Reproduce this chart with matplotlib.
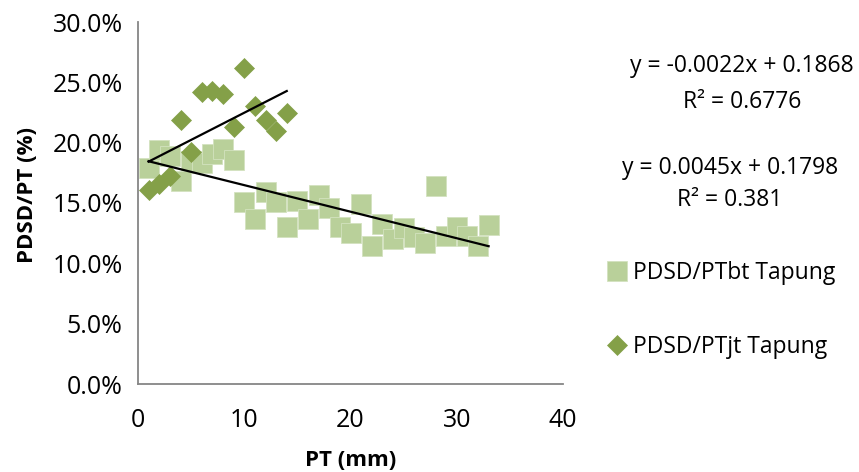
import matplotlib
matplotlib.use("Agg")
import matplotlib.pyplot as plt
import numpy as np
from matplotlib.ticker import PercentFormatter

plt.rcParams['font.family'] = ['Open Sans', 'DejaVu Sans']

# Data (PT in mm, ratio as fraction)
bt_x = list(range(1, 34))
bt_y = [0.179, 0.194, 0.189, 0.168, 0.185, 0.183, 0.191, 0.195, 0.186, 0.151,
        0.137, 0.159, 0.151, 0.130, 0.152, 0.137, 0.157, 0.146, 0.130, 0.125,
        0.149, 0.114, 0.133, 0.120, 0.129, 0.122, 0.117, 0.164, 0.123, 0.130,
        0.123, 0.114, 0.132]
jt_x = list(range(1, 15))
jt_y = [0.161, 0.166, 0.172, 0.219, 0.192, 0.242, 0.243, 0.240, 0.213, 0.262,
        0.230, 0.219, 0.210, 0.225]

bt_slope, bt_int = -0.0022, 0.1868
jt_slope, jt_int = 0.0045, 0.1798
bt_eq = ["y = -0.0022x + 0.1868", "R² = 0.6776"]
jt_eq = ["y = 0.0045x + 0.1798", "R² = 0.381"]

bt_label = "PDSD/PTbt Tapung"
jt_label = "PDSD/PTjt Tapung"
x_ticks = [0, 10, 20, 30, 40]
y_ticks = [0.0, 0.05, 0.10, 0.15, 0.20, 0.25, 0.30]

W, H = 859, 472
fig = plt.figure(figsize=(W / 100, H / 100), dpi=100)
ax = fig.add_axes([138 / W, 1 - 384 / H, (563 - 138) / W, (384 - 22) / H])

sq_color = '#B9D09A'
dm_color = '#84A048'

ax.plot(bt_x, bt_y, linestyle='none', marker='s', markersize=14.4,
        color=sq_color, markeredgecolor='#D3E2BF', markeredgewidth=0.6,
        label=bt_label, zorder=2)
ax.plot(jt_x, jt_y, linestyle='none', marker='D', markersize=9.8,
        color=dm_color, markeredgecolor=dm_color, markeredgewidth=0.5,
        label=jt_label, zorder=3)

bx = np.array([min(bt_x), max(bt_x)])
ax.plot(bx, bt_slope * bx + bt_int, color='black', lw=1.6, zorder=4)
jx = np.array([min(jt_x), max(jt_x)])
ax.plot(jx, jt_slope * jx + jt_int, color='black', lw=1.6, zorder=4)

ax.set_xlim(0, 40)
ax.set_ylim(0, 0.30)
ax.set_xticks(x_ticks)
ax.set_yticks(y_ticks)
ax.yaxis.set_major_formatter(PercentFormatter(1.0, decimals=1))
ax.tick_params(axis='both', length=0, labelsize=18, colors='black')
ax.tick_params(axis='y', pad=11)
ax.tick_params(axis='x', pad=17)
for s in ['top', 'right']:
    ax.spines[s].set_visible(False)
for s in ['left', 'bottom']:
    ax.spines[s].set_color('#868686')
    ax.spines[s].set_linewidth(1.3)

fig.text(351 / W, 1 - 461 / H, "PT (mm)", ha='center', va='center',
         fontsize=16, fontweight='bold')
fig.text(28 / W, 1 - 195 / H, "PDSD/PT (%)", ha='center', va='center',
         fontsize=16, fontweight='bold', rotation=90)

fig.text(742 / W, 1 - 66 / H, bt_eq[0], ha='center', va='center', fontsize=16.5)
fig.text(742 / W, 1 - 102 / H, bt_eq[1], ha='center', va='center', fontsize=16.5)
fig.text(730 / W, 1 - 168 / H, jt_eq[0], ha='center', va='center', fontsize=16.5)
fig.text(730 / W, 1 - 200 / H, jt_eq[1], ha='center', va='center', fontsize=16.5)

leg = ax.legend(loc='upper left', bbox_to_anchor=(608 / W, 1 - 261 / H),
                bbox_transform=fig.transFigure, frameon=False, fontsize=16.5,
                handlelength=0.8, handletextpad=0.3, labelspacing=2.2,
                borderaxespad=0, borderpad=0)

fig.savefig("out.png", dpi=100)
